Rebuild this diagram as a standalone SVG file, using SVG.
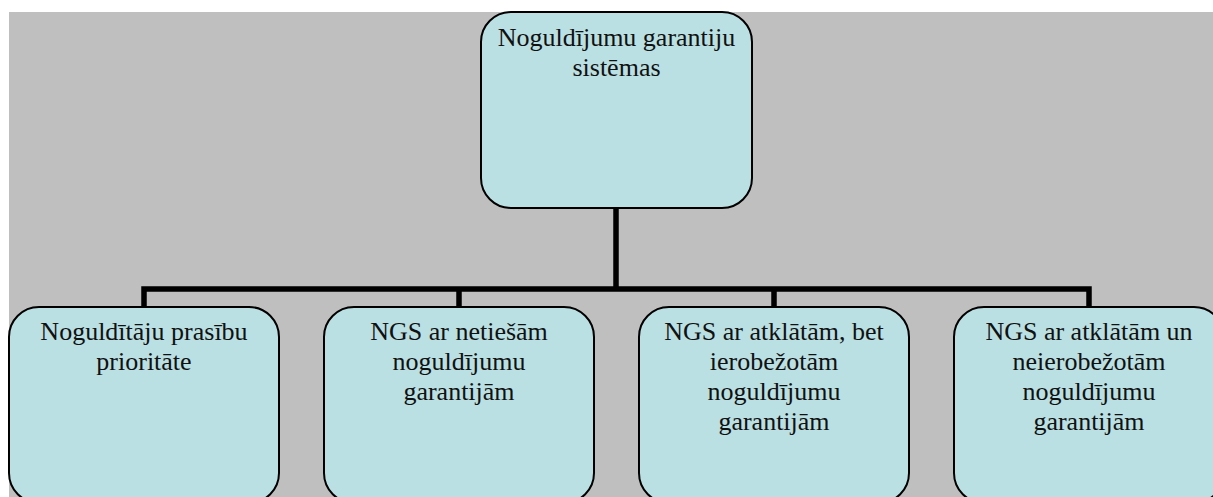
<svg xmlns="http://www.w3.org/2000/svg" width="1213" height="497" viewBox="0 0 1213 497">
<style>
.box{fill:#BAE0E3;stroke:#000;stroke-width:2}
.t{font-family:"Liberation Serif","Times New Roman",serif;font-size:26px;fill:#111;text-anchor:middle}
.c{fill:none;stroke:#000;stroke-width:5.5;stroke-linejoin:miter}
</style>
<rect x="0" y="0" width="1213" height="497" fill="#fff"/>
<rect x="9" y="12" width="1204" height="485" fill="#BFBFBF"/>
<g id="connectors">
<path class="c" d="M616 208 V289 M144 307 V289 H1089 V307 M459 289 V307 M774 289 V307"/>
</g>
<g id="n0">
<rect class="box" x="481" y="12" width="271" height="196" rx="30" ry="30"/>
<text class="t" x="616.5" y="46">Noguldījumu garantiju</text>
<text class="t" x="616.5" y="76">sistēmas</text>
</g>
<g id="n1">
<rect class="box" x="9" y="307" width="270" height="196" rx="30" ry="30"/>
<text class="t" x="144" y="340">Noguldītāju prasību</text>
<text class="t" x="144" y="370">prioritāte</text>
</g>
<g id="n2">
<rect class="box" x="324" y="307" width="270" height="196" rx="30" ry="30"/>
<text class="t" x="459" y="340">NGS ar netiešām</text>
<text class="t" x="459" y="370">noguldījumu</text>
<text class="t" x="459" y="400">garantijām</text>
</g>
<g id="n3">
<rect class="box" x="639" y="307" width="270" height="196" rx="30" ry="30"/>
<text class="t" x="774" y="340">NGS ar atklātām, bet</text>
<text class="t" x="774" y="370">ierobežotām</text>
<text class="t" x="774" y="400">noguldījumu</text>
<text class="t" x="774" y="430">garantijām</text>
</g>
<g id="n4">
<rect class="box" x="954" y="307" width="270" height="196" rx="30" ry="30"/>
<text class="t" x="1089" y="340">NGS ar atklātām un</text>
<text class="t" x="1089" y="370">neierobežotām</text>
<text class="t" x="1089" y="400">noguldījumu</text>
<text class="t" x="1089" y="430">garantijām</text>
</g>
</svg>
